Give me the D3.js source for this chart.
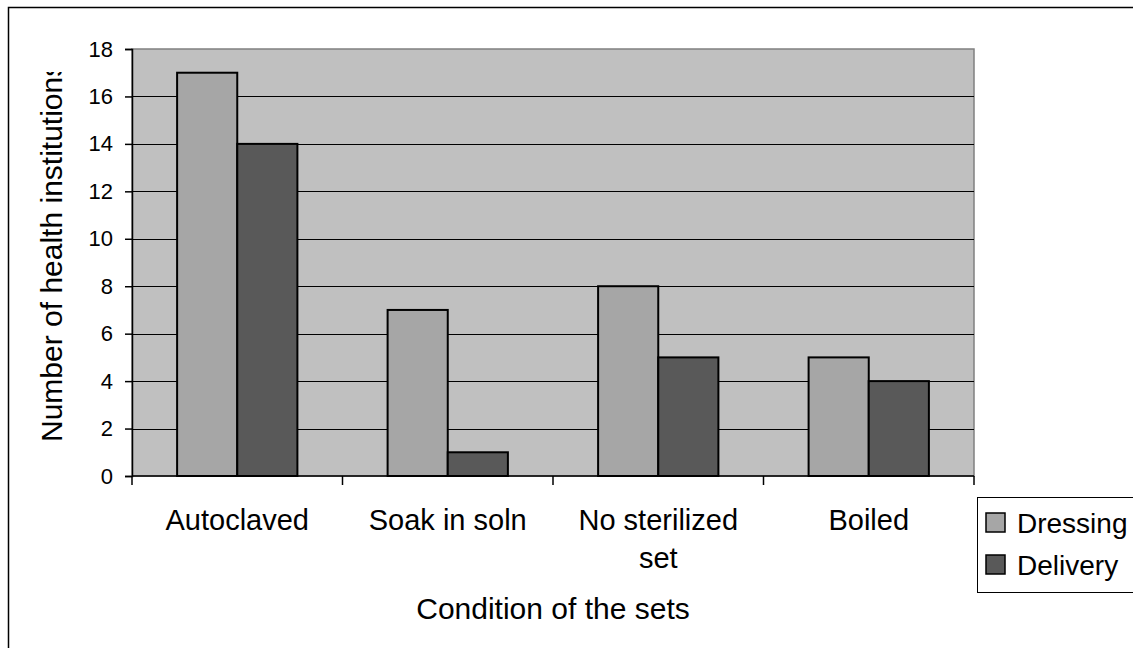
<!DOCTYPE html>
<html>
<head>
<meta charset="utf-8">
<script src="https://cdn.jsdelivr.net/npm/d3@7"></script>
<style>
  html, body { margin: 0; padding: 0; background: #fff; }
  svg { display: block; font-family: "Liberation Sans", Arial, sans-serif; }
</style>
</head>
<body>
<svg id="chart" width="1133" height="648"></svg>
<script>
const categories = ["Autoclaved", "Soak in soln", "No sterilized set", "Boiled"];
const seriesNames = ["Dressing", "Delivery"];
const dressing = [17, 7, 8, 5];
const delivery = [14, 1, 5, 4];
const yTicks = [0, 2, 4, 6, 8, 10, 12, 14, 16, 18];
const colors = ["#a6a6a6", "#595959"];

const svg = d3.select("#chart");
const plot = { left: 132, right: 974, top: 49, bottom: 476 };

// outer frame
svg.append("rect").attr("x", 8.5).attr("y", 7.5).attr("width", 1200).attr("height", 700)
  .attr("fill", "#fff").attr("stroke", "#000").attr("stroke-width", 1.5);

const x = d3.scaleBand().domain(categories).range([plot.left, plot.right]).paddingInner(0).paddingOuter(0);
const xInner = d3.scaleBand().domain(seriesNames).range([0, x.bandwidth()]).paddingInner(0).paddingOuter(0.75);
const y = d3.scaleLinear().domain([0, 18]).range([plot.bottom, plot.top]);

// plot background
svg.append("rect").attr("x", plot.left).attr("y", plot.top)
  .attr("width", plot.right - plot.left).attr("height", plot.bottom - plot.top)
  .attr("fill", "#c0c0c0").attr("stroke", "#808080").attr("stroke-width", 1.5);

// gridlines
svg.append("g").selectAll("line").data(yTicks.filter(d => d > 0 && d < 18)).join("line")
  .attr("x1", plot.left).attr("x2", plot.right)
  .attr("y1", d => Math.round(y(d)) + 0.5).attr("y2", d => Math.round(y(d)) + 0.5)
  .attr("stroke", "#000").attr("stroke-width", 1);

// bars
const data = categories.map((c, i) => ({ c, vals: [dressing[i], delivery[i]] }));
const groups = svg.append("g").selectAll("g").data(data).join("g")
  .attr("transform", d => `translate(${x(d.c)},0)`);
groups.selectAll("rect").data(d => d.vals.map((v, j) => ({ v, s: seriesNames[j], j }))).join("rect")
  .attr("x", d => xInner(d.s)).attr("width", xInner.bandwidth())
  .attr("y", d => y(d.v)).attr("height", d => y(0) - y(d.v))
  .attr("fill", d => colors[d.j]).attr("stroke", "#000").attr("stroke-width", 2);

// y axis
const yAxis = d3.axisLeft(y).tickValues(yTicks).tickSize(7).tickPadding(12).tickFormat(d3.format("d"));
const yg = svg.append("g").attr("transform", `translate(${plot.left},0)`).call(yAxis);
yg.select(".domain").attr("stroke", "#000").attr("stroke-width", 1.5);
yg.selectAll(".tick line").attr("stroke", "#000").attr("stroke-width", 1.5);
yg.selectAll(".tick text").attr("font-size", 22).attr("fill", "#000")
  .attr("font-family", "Liberation Sans, Arial, sans-serif");

// x axis
const xg = svg.append("g").attr("transform", `translate(0,${plot.bottom})`);
xg.append("line").attr("x1", plot.left).attr("x2", plot.right).attr("y1", 0).attr("y2", 0)
  .attr("stroke", "#000").attr("stroke-width", 1.5);
const bounds = categories.map(c => x(c)).concat([plot.right]);
xg.selectAll("line.sep").data(bounds).join("line").attr("class", "sep")
  .attr("x1", d => d).attr("x2", d => d).attr("y1", 0).attr("y2", 9)
  .attr("stroke", "#000").attr("stroke-width", 1.5);

// category labels
const catLines = { "No sterilized set": ["No sterilized", "set"] };
categories.forEach(c => {
  const lines = catLines[c] || [c];
  const t = svg.append("text").attr("x", x(c) + x.bandwidth() / 2).attr("y", 530)
    .attr("text-anchor", "middle").attr("font-size", 29).attr("fill", "#000");
  lines.forEach((l, i) => t.append("tspan").attr("x", x(c) + x.bandwidth() / 2).attr("dy", i === 0 ? 0 : 38).text(l));
});

// x axis title
svg.append("text").attr("x", (plot.left + plot.right) / 2).attr("y", 619)
  .attr("text-anchor", "middle").attr("font-size", 30).attr("fill", "#000")
  .text("Condition of the sets");

// y axis title (clipped at top like the original)
svg.append("clipPath").attr("id", "ytclip").append("rect")
  .attr("x", 0).attr("y", 72).attr("width", 120).attr("height", 500);
svg.append("g").attr("clip-path", "url(#ytclip)")
  .append("text").attr("transform", "translate(62,442) rotate(-90)")
  .attr("text-anchor", "start").attr("font-size", 30).attr("fill", "#000")
  .text("Number of health institutions");

// legend
const lg = svg.append("g");
lg.append("rect").attr("x", 977.5).attr("y", 497.5).attr("width", 200).attr("height", 95)
  .attr("fill", "#fff").attr("stroke", "#000").attr("stroke-width", 1);
const legY = [533, 575];
seriesNames.forEach((s, i) => {
  lg.append("rect").attr("x", 986).attr("y", legY[i] - 20).attr("width", 19).attr("height", 19)
    .attr("fill", colors[i]).attr("stroke", "#000").attr("stroke-width", 1.5);
  lg.append("text").attr("x", 1017).attr("y", legY[i]).attr("font-size", 28).attr("fill", "#000").text(s);
});
</script>
</body>
</html>
